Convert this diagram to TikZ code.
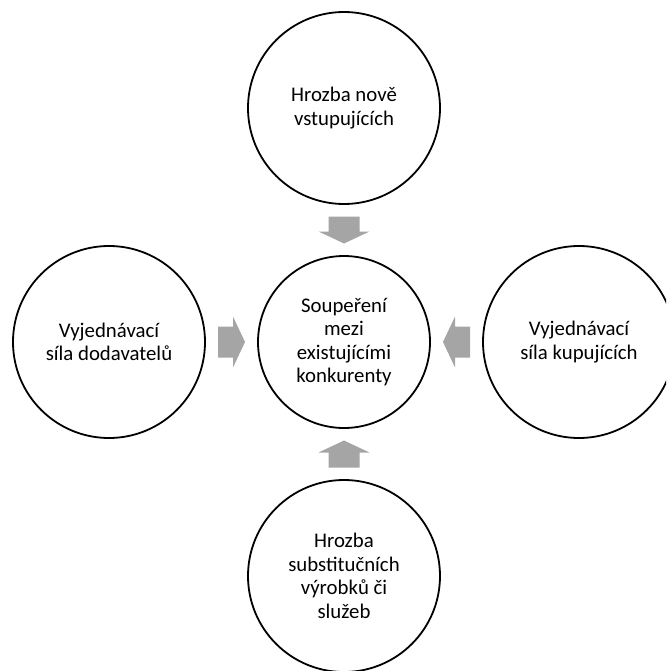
\documentclass[tikz,border=0pt]{standalone}
\usepackage{fontspec}
\setmainfont{Carlito}
\usetikzlibrary{calc}
\definecolor{arrgray}{HTML}{A5A5A5}
\tikzset{
  force/.style={draw=black, line width=1.8pt, circle, minimum size=192pt, inner sep=0pt,
    align=center, text=black, font=\fontsize{20.8pt}{23.5pt}\selectfont},
  core/.style={force, minimum size=172pt},
  blockarrow/.pic={
    \fill[arrgray] (-13.5,-15.5) -- (1.5,-15.5) -- (1.5,-25.5) -- (13.5,0)
      -- (1.5,25.5) -- (1.5,15.5) -- (-13.5,15.5) -- cycle;
  }
}
\begin{document}
\begin{tikzpicture}[x=1pt,y=-1pt]
\useasboundingbox (0,0) rectangle (666,671);
\clip (0,0) rectangle (666,671);
\node[core]  (C) at (344,342) {Soupeření\\mezi\\existujícími\\konkurenty};
\node[force] (T) at (344,108) {Hrozba nově\\vstupujících};
\node[force] (B) at (344,576) {Hrozba\\substitučních\\výrobků či\\služeb};
\node[force] (L) at (109,342) {Vyjednávací\\síla dodavatelů};
\node[force] (R) at (579,342) {Vyjednávací\\síla kupujících};
\pic[rotate=-90] at ($(T.south)!0.5!(C.north)$) {blockarrow};
\pic[rotate=90]  at ($(B.north)!0.5!(C.south)$) {blockarrow};
\pic[rotate=0]   at ($(L.east)!0.5!(C.west)$)   {blockarrow};
\pic[rotate=180] at ($(R.west)!0.5!(C.east)$)   {blockarrow};
\end{tikzpicture}
\end{document}
